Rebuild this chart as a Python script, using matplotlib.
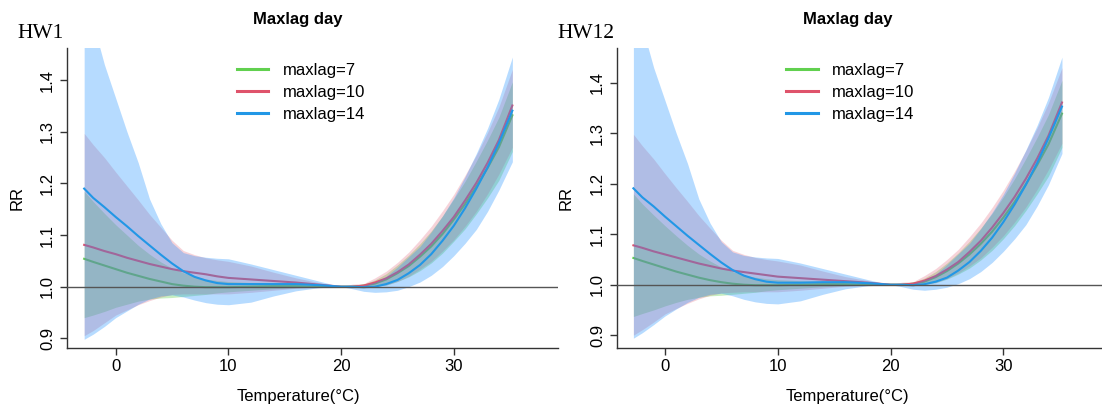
import matplotlib
matplotlib.use("Agg")
import matplotlib.pyplot as plt
from matplotlib.lines import Line2D

plt.rcParams['font.family'] = ['Liberation Sans', 'DejaVu Sans']

# temperature grid (°C)
temp = [-2.8, -2, -1, 0, 1, 2, 3, 4, 5, 6, 7, 8, 9, 10, 12, 14, 16, 18, 20,
        21, 22, 23, 24, 25, 26, 27, 28, 29, 30, 31, 32, 33, 34, 35.2]

# ---- HW1 ----
hw1_fit7 = [1.054, 1.048, 1.041, 1.034, 1.027, 1.021, 1.015, 1.010, 1.005, 1.002, 1.000, 0.999, 0.999, 0.999, 1.000, 1.001, 1.001, 1.000, 1.000,
            1.000, 1.002, 1.006, 1.014, 1.026, 1.040, 1.058, 1.078, 1.102, 1.130, 1.160, 1.194, 1.230, 1.270, 1.332]
hw1_lo7 = [0.940, 0.945, 0.952, 0.960, 0.966, 0.972, 0.976, 0.978, 0.979, 0.981, 0.983, 0.985, 0.988, 0.990, 0.993, 0.996, 0.998, 0.999, 1.000,
           0.999, 0.998, 1.001, 1.003, 1.010, 1.019, 1.031, 1.046, 1.065, 1.088, 1.112, 1.141, 1.172, 1.206, 1.262]
hw1_hi7 = [1.185, 1.165, 1.142, 1.120, 1.100, 1.080, 1.063, 1.048, 1.036, 1.027, 1.020, 1.015, 1.012, 1.010, 1.008, 1.006, 1.004, 1.002, 1.000,
           1.002, 1.005, 1.013, 1.025, 1.042, 1.061, 1.083, 1.108, 1.137, 1.170, 1.204, 1.243, 1.284, 1.328, 1.397]

hw1_fit10 = [1.081, 1.076, 1.069, 1.063, 1.056, 1.050, 1.044, 1.039, 1.034, 1.030, 1.027, 1.024, 1.020, 1.017, 1.014, 1.011, 1.008, 1.004, 1.000,
             1.000, 1.002, 1.008, 1.016, 1.028, 1.043, 1.062, 1.083, 1.108, 1.135, 1.167, 1.201, 1.240, 1.284, 1.351]
hw1_lo10 = [0.905, 0.915, 0.930, 0.945, 0.955, 0.965, 0.973, 0.980, 0.985, 0.986, 0.986, 0.986, 0.986, 0.986, 0.989, 0.993, 0.997, 0.999, 1.000,
            0.998, 1.000, 1.001, 1.003, 1.010, 1.020, 1.034, 1.049, 1.069, 1.091, 1.117, 1.146, 1.180, 1.218, 1.270]
hw1_hi10 = [1.297, 1.275, 1.250, 1.222, 1.195, 1.168, 1.140, 1.115, 1.090, 1.070, 1.062, 1.056, 1.052, 1.049, 1.040, 1.028, 1.017, 1.008, 1.000,
            1.005, 1.006, 1.017, 1.030, 1.047, 1.067, 1.091, 1.117, 1.147, 1.179, 1.216, 1.255, 1.299, 1.348, 1.421]

hw1_fit14 = [1.190, 1.172, 1.154, 1.135, 1.117, 1.098, 1.080, 1.062, 1.045, 1.030, 1.019, 1.012, 1.007, 1.005, 1.005, 1.005, 1.005, 1.003, 1.000,
             1.000, 0.999, 1.000, 1.005, 1.013, 1.026, 1.042, 1.063, 1.089, 1.118, 1.152, 1.190, 1.231, 1.278, 1.341]
hw1_lo14 = [0.898, 0.908, 0.923, 0.940, 0.953, 0.966, 0.976, 0.982, 0.984, 0.980, 0.974, 0.969, 0.966, 0.965, 0.970, 0.982, 0.992, 0.998, 1.000,
            0.996, 0.991, 0.989, 0.990, 0.993, 1.000, 1.009, 1.022, 1.039, 1.060, 1.084, 1.111, 1.146, 1.187, 1.242]
hw1_hi14 = [1.580, 1.510, 1.430, 1.365, 1.300, 1.240, 1.170, 1.122, 1.085, 1.066, 1.060, 1.057, 1.055, 1.054, 1.044, 1.033, 1.022, 1.011, 1.000,
            1.002, 1.003, 1.009, 1.020, 1.038, 1.058, 1.078, 1.106, 1.137, 1.172, 1.213, 1.258, 1.307, 1.363, 1.445]

# ---- HW12 ----
hw12_fit7 = [1.053, 1.047, 1.040, 1.033, 1.026, 1.020, 1.014, 1.009, 1.005, 1.002, 1.000, 0.999, 0.999, 0.999, 1.000, 1.001, 1.001, 1.000, 1.000,
             1.000, 1.002, 1.006, 1.015, 1.027, 1.042, 1.060, 1.081, 1.105, 1.133, 1.164, 1.199, 1.237, 1.278, 1.339]
hw12_lo7 = [0.937, 0.943, 0.950, 0.958, 0.965, 0.971, 0.975, 0.978, 0.979, 0.981, 0.983, 0.985, 0.988, 0.990, 0.993, 0.996, 0.998, 0.999, 1.000,
            0.999, 0.998, 1.001, 1.004, 1.011, 1.021, 1.033, 1.049, 1.068, 1.091, 1.117, 1.147, 1.180, 1.215, 1.272]
hw12_hi7 = [1.180, 1.160, 1.138, 1.117, 1.097, 1.078, 1.061, 1.047, 1.035, 1.026, 1.019, 1.015, 1.012, 1.010, 1.008, 1.006, 1.004, 1.002, 1.000,
            1.002, 1.005, 1.013, 1.026, 1.043, 1.063, 1.086, 1.112, 1.141, 1.174, 1.210, 1.250, 1.292, 1.337, 1.405]

hw12_fit10 = [1.078, 1.073, 1.066, 1.060, 1.054, 1.048, 1.042, 1.037, 1.032, 1.028, 1.025, 1.022, 1.019, 1.016, 1.013, 1.010, 1.007, 1.004, 1.000,
              1.000, 1.002, 1.008, 1.017, 1.030, 1.045, 1.065, 1.087, 1.113, 1.142, 1.174, 1.210, 1.250, 1.295, 1.361]
hw12_lo10 = [0.900, 0.911, 0.926, 0.942, 0.953, 0.963, 0.972, 0.979, 0.984, 0.985, 0.986, 0.986, 0.986, 0.986, 0.989, 0.993, 0.997, 0.999, 1.000,
             0.998, 1.000, 1.001, 1.004, 1.012, 1.023, 1.037, 1.053, 1.074, 1.097, 1.124, 1.154, 1.189, 1.228, 1.280]
hw12_hi10 = [1.298, 1.275, 1.249, 1.220, 1.192, 1.165, 1.137, 1.112, 1.088, 1.068, 1.060, 1.054, 1.050, 1.047, 1.039, 1.027, 1.016, 1.008, 1.000,
             1.005, 1.006, 1.018, 1.032, 1.050, 1.070, 1.095, 1.122, 1.153, 1.187, 1.225, 1.266, 1.311, 1.360, 1.430]

hw12_fit14 = [1.191, 1.173, 1.155, 1.135, 1.116, 1.097, 1.079, 1.061, 1.044, 1.029, 1.018, 1.011, 1.006, 1.004, 1.004, 1.005, 1.005, 1.003, 1.000,
              1.000, 0.999, 1.001, 1.006, 1.014, 1.028, 1.045, 1.067, 1.093, 1.124, 1.159, 1.198, 1.241, 1.290, 1.353]
hw12_lo14 = [0.894, 0.905, 0.921, 0.938, 0.952, 0.965, 0.975, 0.981, 0.983, 0.978, 0.971, 0.966, 0.963, 0.962, 0.968, 0.981, 0.992, 0.998, 1.000,
             0.996, 0.991, 0.989, 0.991, 0.995, 1.002, 1.012, 1.026, 1.044, 1.066, 1.091, 1.119, 1.156, 1.198, 1.260]
hw12_hi14 = [1.580, 1.510, 1.430, 1.365, 1.300, 1.240, 1.170, 1.122, 1.085, 1.065, 1.058, 1.055, 1.053, 1.052, 1.043, 1.032, 1.021, 1.010, 1.000,
             1.002, 1.003, 1.010, 1.021, 1.040, 1.061, 1.082, 1.111, 1.143, 1.179, 1.221, 1.267, 1.316, 1.371, 1.451]

labels = ['maxlag=7', 'maxlag=10', 'maxlag=14']
line_cols = ['#61D04F', '#DF536B', '#2297E6']
band_cols = ['#61D04F', '#DF536B', '#1E90FF']
band_alpha = [0.35, 0.25, 0.32]

W, H = 1102, 413
fig = plt.figure(figsize=(W / 100, H / 100), dpi=100)


def px_axes(x0, y0, x1, y1):
    # pixel box -> figure fraction
    return fig.add_axes([x0 / W, 1 - y1 / H, (x1 - x0) / W, (y1 - y0) / H])


def draw_panel(ax, series, xlim, ylim, name, name_x, cx, ylab_x, leg_x):
    z = 1
    for (fit, lo, hi), lc, bc, a in zip(series, line_cols, band_cols, band_alpha):
        ax.fill_between(temp, lo, hi, color=bc, alpha=a, linewidth=0, zorder=z)
        ax.plot(temp, fit, color=lc, lw=1.5, zorder=z + 0.5)
        z += 1
    ax.axhline(1.0, color='#555555', lw=1, zorder=z)
    ax.set_xlim(*xlim)
    ax.set_ylim(*ylim)
    ax.set_xticks([0, 10, 20, 30])
    ax.set_yticks([0.9, 1.0, 1.1, 1.2, 1.3, 1.4])
    ax.set_yticklabels(['0.9', '1.0', '1.1', '1.2', '1.3', '1.4'])
    for s in ['top', 'right']:
        ax.spines[s].set_visible(False)
    for s in ['left', 'bottom']:
        ax.spines[s].set_color('#333333')
        ax.spines[s].set_linewidth(1)
    ax.tick_params(direction='out', length=5, width=1, color='#333333',
                   labelsize=12, labelcolor='black')
    ax.tick_params(axis='x', pad=2.5)
    ax.tick_params(axis='y', pad=3.5, labelrotation=90)
    for t in ax.get_yticklabels():
        t.set_va('center')
    ax.text(cx, -0.161, 'Temperature(°C)', transform=ax.transAxes,
            ha='center', va='center', fontsize=12)
    ax.text(ylab_x, 0.5, 'RR', transform=ax.transAxes, rotation=90,
            ha='center', va='center', fontsize=12)
    ax.text(cx, 1.0 + 28.4 / 300.6, 'Maxlag day', transform=ax.transAxes,
            ha='center', va='center', fontsize=12, fontweight='bold')
    fig.text(name_x / W, 1 - 33 / H, name, family='Liberation Serif',
             fontsize=15.5, ha='left', va='center')
    handles = [Line2D([], [], color=c, lw=2.2) for c in line_cols]
    ax.legend(handles, labels, loc='upper left', bbox_to_anchor=(leg_x, 0.949),
              frameon=False, fontsize=12, handlelength=1.9, handletextpad=0.85,
              labelspacing=0.42, borderpad=0, borderaxespad=0)


ax1 = px_axes(66.7, 47.7, 558, 348.3)
draw_panel(ax1,
           [(hw1_fit7, hw1_lo7, hw1_hi7),
            (hw1_fit10, hw1_lo10, hw1_hi10),
            (hw1_fit14, hw1_lo14, hw1_hi14)],
           (-4.35, 39.25), (0.8806, 1.463), 'HW1', 17, 0.471, -0.1018, 0.346)

ax2 = px_axes(616.7, 48, 1102, 348.3)
draw_panel(ax2,
           [(hw12_fit7, hw12_lo7, hw12_hi7),
            (hw12_fit10, hw12_lo10, hw12_hi10),
            (hw12_fit14, hw12_lo14, hw12_hi14)],
           (-4.28, 38.75), (0.874, 1.469), 'HW12', 557, 0.476, -0.1045, 0.349)

fig.savefig('out.png', dpi=100)
